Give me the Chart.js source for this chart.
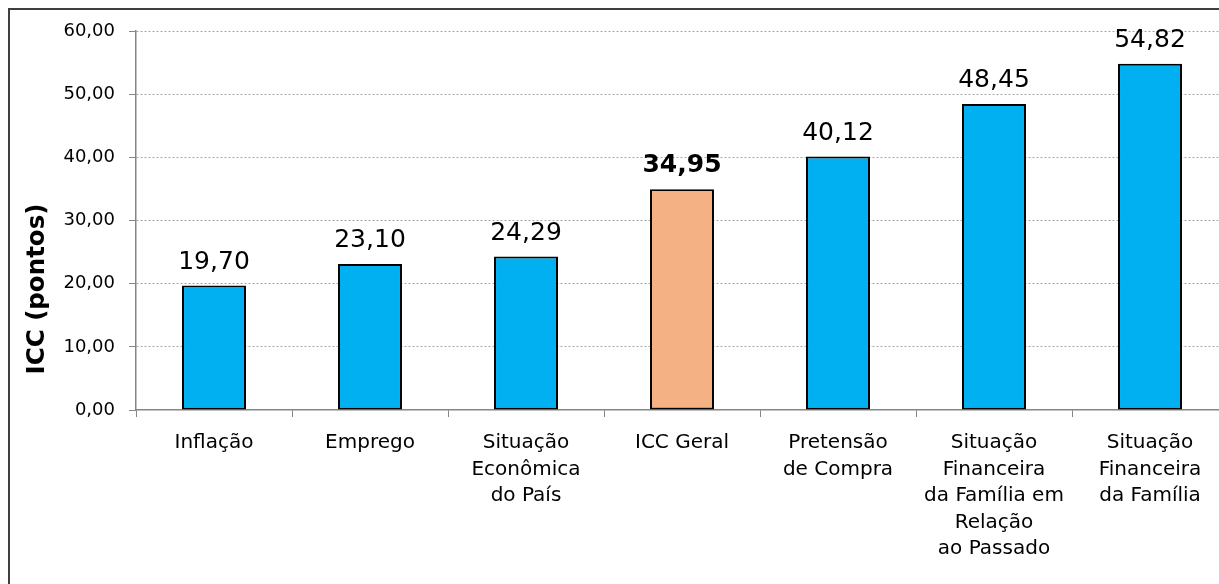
<!DOCTYPE html>
<html>
<head>
<meta charset="utf-8">
<script src="https://cdn.jsdelivr.net/npm/chart.js@4"></script>
<style>
  html, body { margin: 0; padding: 0; background: #fff; overflow: hidden; }
  #wrap { position: relative; width: 1219px; height: 584px; overflow: hidden; }
  #frame {
    position: absolute; left: 8px; top: 8px; width: 1400px; height: 800px;
    border-left: 2px solid #3f3f3f; border-top: 2px solid #3f3f3f;
  }
  #holder { position: absolute; left: 0; top: 0; width: 1240px; height: 584px; }
</style>
</head>
<body>
<div id="wrap">
  <div id="frame"></div>
  <div id="holder"><canvas id="chart"></canvas></div>
</div>
<script>
// Categories (multi-line labels) and ICC values in points
const categories = [
  "Inflação",
  "Emprego",
  ["Situação", "Econômica", "do País"],
  "ICC Geral",
  ["Pretensão", "de Compra"],
  ["Situação", "Financeira", "da Família em", "Relação", "ao Passado"],
  ["Situação", "Financeira", "da Família"]
]
const values = [19.70, 23.10, 24.29, 34.95, 40.12, 48.45, 54.82]
const highlight = "ICC Geral"
const yTitle = "ICC (pontos)"

const yTicks = { min: 0, max: 60, step: 10 }

const font = "'DejaVu Sans', Verdana, sans-serif"
const blue = "#00B0F0"
const orange = "#F4B183"
const axisGray = "#868686"

const fmt = (v) => Number(v).toFixed(2).replace(".", ",")
const isHighlight = (i) => categories[i] === highlight

// value labels above the bars + the axis title, which sits lower than the plot middle
const extras = {
  id: "extras",
  afterDatasetsDraw(chart) {
    const { ctx } = chart
    const meta = chart.getDatasetMeta(0)
    ctx.save()
    ctx.fillStyle = "#000"
    ctx.textAlign = "center"
    ctx.textBaseline = "alphabetic"
    meta.data.forEach((bar, i) => {
      ctx.font = (isHighlight(i) ? "bold " : "") + "25px " + font
      ctx.fillText(fmt(values[i]), bar.x, bar.y - 17)
    })

    ctx.translate(38, 289)
    ctx.rotate(-Math.PI / 2)
    ctx.textBaseline = "middle"
    ctx.font = "bold 24.5px " + font
    ctx.fillText(yTitle, 0, 0)
    ctx.restore()
  }
}

new Chart(document.getElementById("chart"), {
  type: "bar",
  data: {
    labels: categories,
    datasets: [{
      data: values,
      backgroundColor: (ctx) => isHighlight(ctx.dataIndex) ? orange : blue,
      borderColor: "#000",
      borderWidth: 2,
      borderSkipped: false,
      categoryPercentage: 1,
      barPercentage: 0.41
    }]
  },
  options: {
    responsive: true,
    maintainAspectRatio: false,
    animation: false,
    layout: { padding: { left: 0, top: 31, right: 12, bottom: 0 } },
    plugins: {
      legend: { display: false },
      tooltip: { enabled: false }
    },
    scales: {
      x: {
        afterFit: (s) => { s.height = 174 },
        grid: {
          drawOnChartArea: false,
          drawTicks: true,
          tickLength: 7,
          tickColor: axisGray,
          offset: true
        },
        border: { display: true, color: axisGray, width: 1.5 },
        ticks: {
          color: "#000",
          padding: 13,
          maxRotation: 0,
          autoSkip: false,
          font: { family: font, size: 20, lineHeight: 1.32 }
        }
      },
      y: {
        min: yTicks.min,
        max: yTicks.max,
        afterFit: (s) => { s.width = 136 },
        grid: {
          color: (c) => c.tick.value === 0 ? "rgba(0,0,0,0)" : "#a6a6a6",
          lineWidth: 1,
          drawTicks: true,
          tickLength: 7,
          tickColor: axisGray,
          tickBorderDash: [0, 0]
        },
        border: { display: true, color: axisGray, width: 1.5, dash: [2, 2] },
        ticks: {
          stepSize: yTicks.step,
          color: "#000",
          padding: 14,
          font: { family: font, size: 18 },
          callback: (v) => fmt(v)
        }
      }
    }
  },
  plugins: [extras]
})
</script>
</body>
</html>
